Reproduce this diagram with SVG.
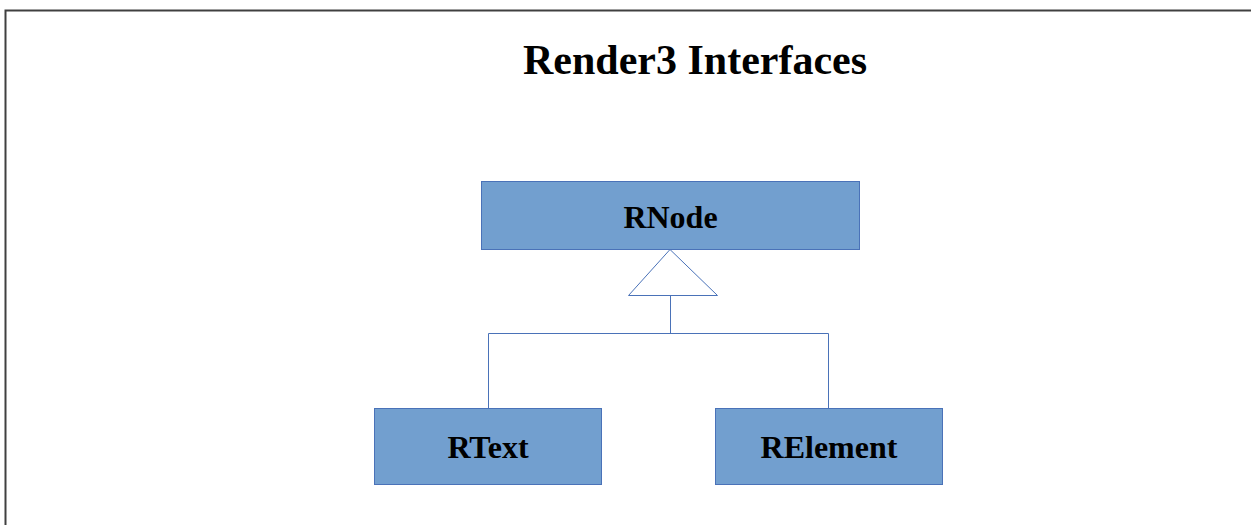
<svg xmlns="http://www.w3.org/2000/svg" width="1251" height="525" viewBox="0 0 1251 525">
<style>
.node{fill:#729fcf;stroke:#4a72b8;stroke-width:1}
.lbl{font-family:"Liberation Serif",serif;font-weight:bold;font-size:32px;fill:#000;text-anchor:middle}
.title{font-family:"Liberation Serif",serif;font-weight:bold;font-size:42px;fill:#000;text-anchor:middle}
.conn{fill:none;stroke:#4a72b8;stroke-width:1}
</style>
<rect x="0" y="0" width="1251" height="525" fill="#fff"/>
<path d="M5.5 525V10.5H1251" fill="none" stroke="#404040" stroke-width="2"/>
<text class="title" x="695" y="74">Render3 Interfaces</text>
<g id="connectors">
<polygon class="conn" points="670,249.5 628.5,295.5 717.5,295.5" style="fill:#fff"/>
<path class="conn" d="M670.5 295.5V333.5M488.5 408V333.5H828.5V408"/>
</g>
<g id="RNode">
<rect class="node" x="481.5" y="181.5" width="378" height="68"/>
<text class="lbl" x="670.5" y="228">RNode</text>
</g>
<g id="RText">
<rect class="node" x="374.5" y="408.5" width="227" height="76"/>
<text class="lbl" x="488" y="458">RText</text>
</g>
<g id="RElement">
<rect class="node" x="715.5" y="408.5" width="227" height="76"/>
<text class="lbl" x="829" y="458">RElement</text>
</g>
</svg>
